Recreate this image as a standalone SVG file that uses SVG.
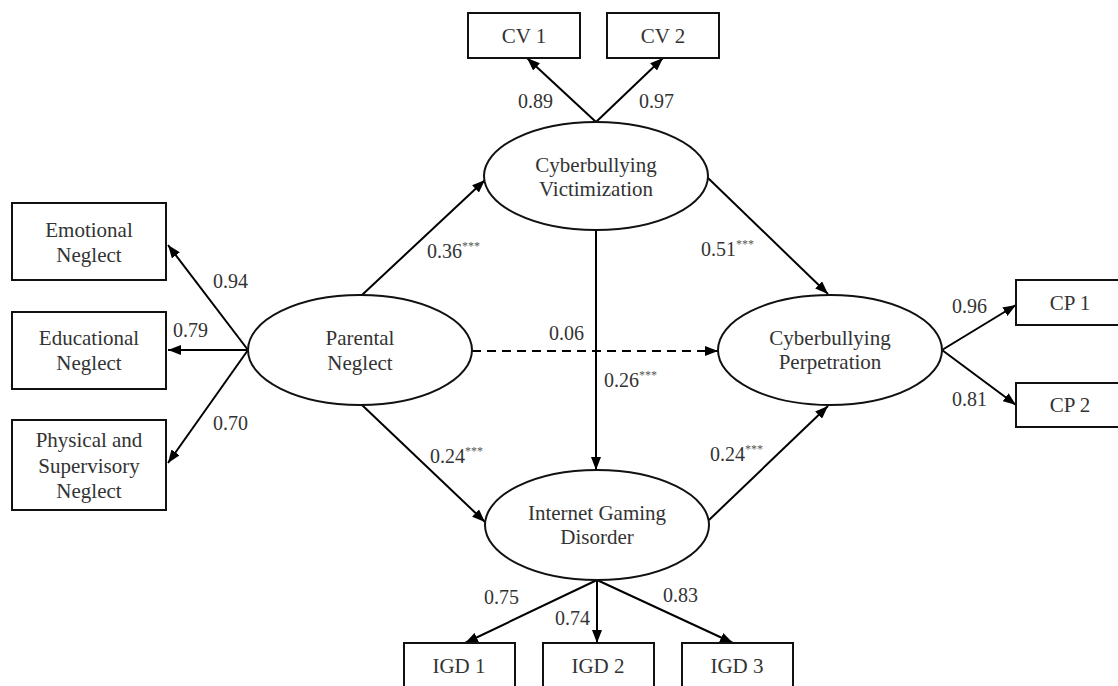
<svg xmlns="http://www.w3.org/2000/svg" width="1118" height="686" viewBox="0 0 1118 686">
<defs>
<marker id="ah" markerWidth="13" markerHeight="10" refX="13" refY="5" orient="auto" markerUnits="userSpaceOnUse">
<path d="M0,0 L13,5 L0,10 z" fill="#000"/>
</marker>
<style>
.box{fill:#fff;stroke:#111;stroke-width:2}
.ell{fill:#fff;stroke:#111;stroke-width:2}
.t{font-family:"Liberation Serif","Times New Roman",serif;font-size:21px;fill:#333;text-anchor:middle}
.l{font-family:"Liberation Serif","Times New Roman",serif;font-size:20px;fill:#333}
.s{font-size:12px;fill:#555}
.e{stroke:#000;stroke-width:2;fill:none;marker-end:url(#ah)}
.d{stroke-dasharray:9,6}
</style>
</defs>
<rect width="1118" height="686" fill="#fff"/>
<g id="connectors">
<line class="e" x1="248" y1="350" x2="168" y2="245"/>
<line class="e" x1="248" y1="350" x2="168" y2="350"/>
<line class="e" x1="248" y1="350" x2="168" y2="463"/>
<line class="e" x1="596" y1="122" x2="527" y2="58"/>
<line class="e" x1="596" y1="122" x2="663" y2="58"/>
<line class="e" x1="942" y1="350" x2="1016" y2="305"/>
<line class="e" x1="942" y1="350" x2="1016" y2="405"/>
<line class="e" x1="597" y1="580" x2="465" y2="643"/>
<line class="e" x1="597" y1="580" x2="597" y2="643"/>
<line class="e" x1="597" y1="580" x2="733" y2="643"/>
<line class="e" x1="362" y1="295" x2="485" y2="180"/>
<line class="e" x1="362" y1="405" x2="485" y2="522"/>
<line class="e d" x1="472" y1="351" x2="718" y2="351"/>
<line class="e" x1="596" y1="230" x2="596" y2="470"/>
<line class="e" x1="708" y1="178" x2="828" y2="294"/>
<line class="e" x1="709" y1="520" x2="828" y2="406"/>
</g>
<g id="labels">
<text class="l" x="213" y="288">0.94</text>
<text class="l" x="173" y="337">0.79</text>
<text class="l" x="213" y="430">0.70</text>
<text class="l" x="518" y="108">0.89</text>
<text class="l" x="639" y="108">0.97</text>
<text class="l" x="427" y="258">0.36<tspan class="s" dy="-8">***</tspan></text>
<text class="l" x="430" y="463">0.24<tspan class="s" dy="-8">***</tspan></text>
<text class="l" x="549" y="340">0.06</text>
<text class="l" x="604" y="387">0.26<tspan class="s" dy="-8">***</tspan></text>
<text class="l" x="701" y="256">0.51<tspan class="s" dy="-8">***</tspan></text>
<text class="l" x="710" y="461">0.24<tspan class="s" dy="-8">***</tspan></text>
<text class="l" x="952" y="313">0.96</text>
<text class="l" x="952" y="406">0.81</text>
<text class="l" x="484" y="604">0.75</text>
<text class="l" x="555" y="625">0.74</text>
<text class="l" x="663" y="602">0.83</text>
</g>
<g id="emotional-neglect"><rect class="box" x="12" y="203" width="154" height="77"/><text class="t" x="89" y="237">Emotional</text><text class="t" x="89" y="262">Neglect</text></g>
<g id="educational-neglect"><rect class="box" x="12" y="312" width="154" height="77"/><text class="t" x="89" y="345">Educational</text><text class="t" x="89" y="370">Neglect</text></g>
<g id="physical-neglect"><rect class="box" x="12" y="420" width="154" height="90"/><text class="t" x="89" y="447">Physical and</text><text class="t" x="89" y="473">Supervisory</text><text class="t" x="89" y="498">Neglect</text></g>
<g id="parental-neglect"><ellipse class="ell" cx="360" cy="350" rx="112" ry="55"/><text class="t" x="360" y="345">Parental</text><text class="t" x="360" y="370">Neglect</text></g>
<g id="cv"><ellipse class="ell" cx="596" cy="176" rx="112" ry="54"/><text class="t" x="596" y="172">Cyberbullying</text><text class="t" x="596" y="196">Victimization</text></g>
<g id="cp"><ellipse class="ell" cx="830" cy="350" rx="112" ry="55"/><text class="t" x="830" y="345">Cyberbullying</text><text class="t" x="830" y="369">Perpetration</text></g>
<g id="igd"><ellipse class="ell" cx="597" cy="525" rx="112" ry="55"/><text class="t" x="597" y="520">Internet Gaming</text><text class="t" x="597" y="544">Disorder</text></g>
<g id="cv1"><rect class="box" x="468" y="13" width="112" height="45"/><text class="t" x="524" y="43">CV 1</text></g>
<g id="cv2"><rect class="box" x="607" y="13" width="112" height="45"/><text class="t" x="663" y="43">CV 2</text></g>
<g id="cp1"><rect class="box" x="1016" y="280" width="110" height="45"/><text class="t" x="1070" y="310">CP 1</text></g>
<g id="cp2"><rect class="box" x="1016" y="383" width="110" height="44"/><text class="t" x="1070" y="412">CP 2</text></g>
<g id="igd1"><rect class="box" x="404" y="643" width="111" height="50"/><text class="t" x="459" y="673">IGD 1</text></g>
<g id="igd2"><rect class="box" x="543" y="643" width="111" height="50"/><text class="t" x="598" y="673">IGD 2</text></g>
<g id="igd3"><rect class="box" x="682" y="643" width="111" height="50"/><text class="t" x="737" y="673">IGD 3</text></g>
</svg>
